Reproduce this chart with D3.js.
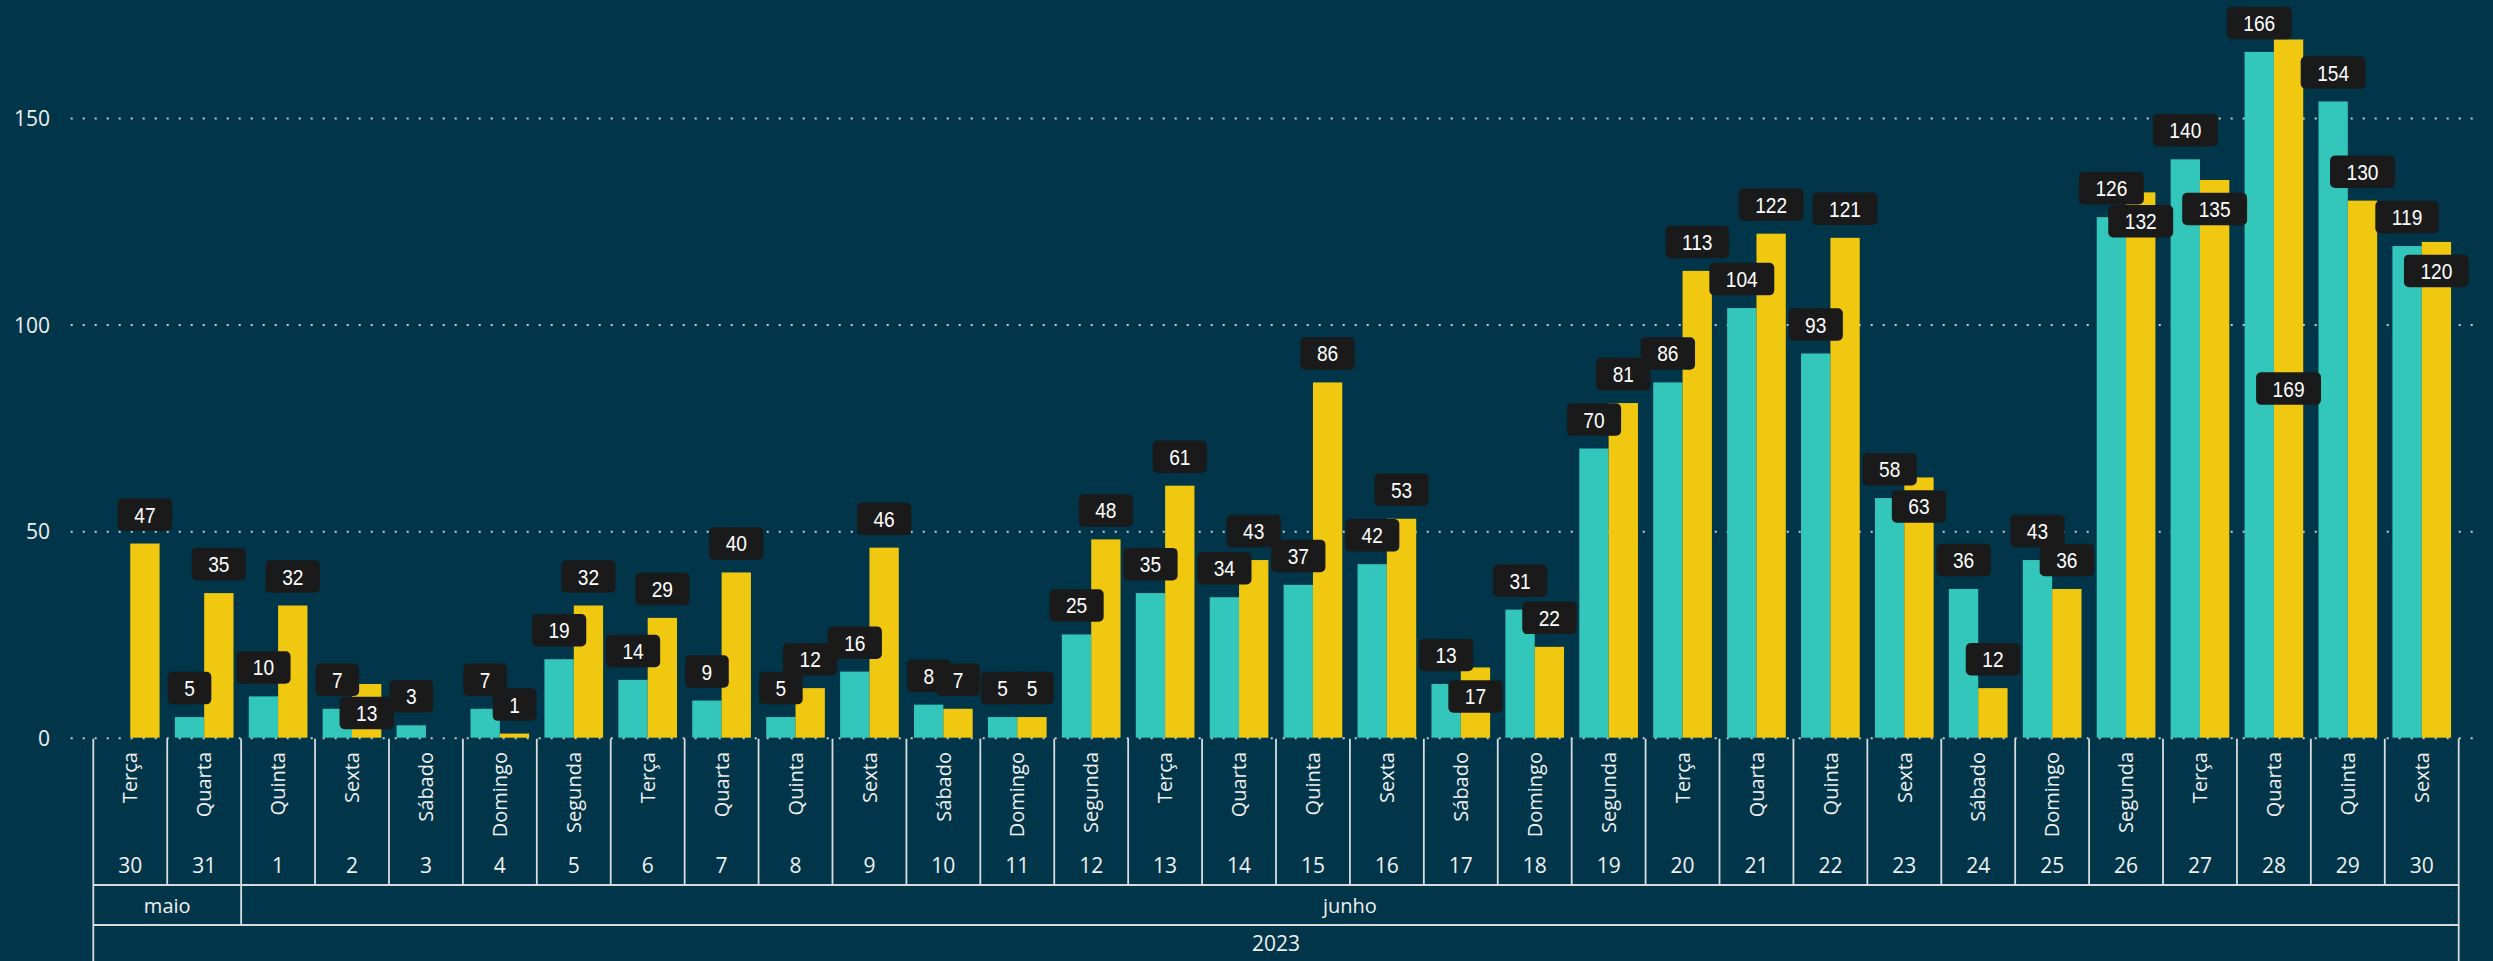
<!DOCTYPE html>
<html>
<head>
<meta charset="utf-8">
<script src="https://cdn.jsdelivr.net/npm/d3@7"></script>
<style>
html, body { margin: 0; padding: 0; background: #01364a; overflow: hidden; }
text { font-family: "Open Sans", "Noto Sans", sans-serif; fill: #f0f0f0; }
.axis text { font-size: 21px; }
.weekday { font-size: 20px; }
.daynum { font-size: 21px; }
.month { font-size: 20px; }
.dataLabel { font-family: "Liberation Sans", Arial, sans-serif; font-size: 22.5px; fill: #ffffff; }
</style>
</head>
<body>
<div id="drawing"></div>
<script>
"use strict"

/**** DATA ****/

let dayNumbers = [30, 31, 1, 2, 3, 4, 5, 6, 7, 8, 9, 10, 11, 12, 13, 14, 15, 16, 17, 18, 19, 20, 21, 22, 23, 24, 25, 26, 27, 28, 29, 30]
let weekdays = ["Terça", "Quarta", "Quinta", "Sexta", "Sábado", "Domingo", "Segunda", "Terça", "Quarta", "Quinta", "Sexta", "Sábado", "Domingo", "Segunda", "Terça", "Quarta", "Quinta", "Sexta", "Sábado", "Domingo", "Segunda", "Terça", "Quarta", "Quinta", "Sexta", "Sábado", "Domingo", "Segunda", "Terça", "Quarta", "Quinta", "Sexta"]
let monthNames = ["maio", "junho"]
let monthDayCounts = [2, 30]
let yearLabel = "2023"

let tealValues = [null, 5, 10, 7, 3, 7, 19, 14, 9, 5, 16, 8, 5, 25, 35, 34, 37, 42, 13, 31, 70, 86, 104, 93, 58, 36, 43, 126, 140, 166, 154, 119]
let yellowValues = [47, 35, 32, 13, null, 1, 32, 29, 40, 12, 46, 7, 5, 48, 61, 43, 86, 53, 17, 22, 81, 113, 122, 121, 63, 12, 36, 132, 135, 169, 130, 120]
let yTicks = [0, 50, 100, 150]


/**** CONFIGURATION ****/

let svgWidth = 2493
let svgHeight = 961

let plotLeft = 93.3
let plotRight = 2458.7
let gridLeft = 70.7
let gridRight = 2474
let baseY = 737.7
let tick150Y = 118
let dayRowBottom = 885
let monthRowBottom = 925

let seriesKeys = ["teal", "yellow"]
let seriesValues = [tealValues, yellowValues]
let seriesColors = ["#33c6ba", "#f0c80f"]
let lineColor = "#d8dcde"

let boxH = 32.5
let boxGap = 12.7
let labelSquash = 0.85   // labels use a narrow (DIN-like) face


/**** CANVAS SETUP ****/

let svg = d3.select("#drawing")
  .append("svg")
  .attr("width", svgWidth)
  .attr("height", svgHeight)
  .style("display", "block")

svg.append("rect")
  .attr("width", svgWidth)
  .attr("height", svgHeight)
  .attr("fill", "#01364a")


/**** SCALES ****/

let y = d3.scaleLinear()
  .domain([0, 150])
  .range([baseY, tick150Y])

let x = d3.scaleBand()
  .domain(d3.range(dayNumbers.length))
  .range([plotLeft, plotRight])

let xSub = d3.scaleBand()
  .domain(seriesKeys)
  .range([0, x.bandwidth()])
  .paddingOuter(0.26)


/**** GRID + Y AXIS ****/

let yAxis = svg.append("g")
  .attr("class", "axis")
  .attr("transform", "translate(" + gridLeft + ",0)")
  .call(d3.axisLeft(y)
    .tickValues(yTicks)
    .tickSize(-(gridRight - gridLeft))
    .tickPadding(20.7))

yAxis.select(".domain").remove()
yAxis.selectAll(".tick line")
  .attr("stroke", "#c9d0d4")
  .attr("stroke-width", 2)
  .attr("stroke-dasharray", "2,10")
yAxis.selectAll(".tick text")
  .attr("fill", "#f0f0f0")
  .attr("dy", "0.36em")


/**** BARS ****/

seriesKeys.forEach(function(key, si) {
  let rows = seriesValues[si]
    .map(function(v, i) { return { v: v, i: i } })
    .filter(function(d) { return d.v != null })

  svg.append("g")
    .selectAll("rect")
    .data(rows)
    .join("rect")
    .attr("x", d => x(d.i) + xSub(key))
    .attr("width", xSub.bandwidth())
    .attr("y", d => y(d.v))
    .attr("height", d => baseY - y(d.v))
    .attr("fill", seriesColors[si])
})


/**** DATA LABELS ****/

let labels = []
seriesKeys.forEach(function(key, si) {
  seriesValues[si].forEach(function(v, i) {
    if (v == null) return
    labels.push({ si: si, i: i, v: v, cx: x(i) + xSub(key) + xSub.bandwidth() / 2, top: y(v) })
  })
})

let probe = svg.append("text").attr("class", "dataLabel")
labels.forEach(function(d) {
  probe.text(d.v)
  d.tw = probe.node().getComputedTextLength() * labelSquash
  d.w = d.tw + 33
})
probe.remove()

// place above the bar, else inside end, else inside centre (teal first)
let placed = []
function collides(b) {
  return placed.some(function(p) {
    return Math.min(b.x1, p.x1) - Math.max(b.x0, p.x0) > 12 &&
      Math.min(b.y1, p.y1) - Math.max(b.y0, p.y0) > 5
  })
}

labels.forEach(function(d) {
  let x0 = d.cx - d.w / 2
  let x1 = d.cx + d.w / 2
  let above = d.top - boxGap - boxH
  let options = []
  if (above >= 0) options.push(above)
  if (d.top + boxGap + boxH <= baseY) options.push(d.top + boxGap)
  if (baseY - d.top >= boxH) options.push((d.top + baseY) / 2 - boxH / 2)
  let pick = options.find(y0 => !collides({ x0: x0, x1: x1, y0: y0, y1: y0 + boxH }))
  d.y0 = pick === undefined ? above : pick
  placed.push({ x0: x0, x1: x1, y0: d.y0, y1: d.y0 + boxH })
})

labels.sort((a, b) => a.i - b.i || a.si - b.si)

let labelG = svg.append("g")
  .selectAll("g")
  .data(labels)
  .join("g")

labelG.append("rect")
  .attr("x", d => d.cx - d.w / 2)
  .attr("y", d => d.y0)
  .attr("width", d => d.w)
  .attr("height", boxH)
  .attr("rx", 5)
  .attr("fill", "#1a1a1a")

labelG.append("text")
  .attr("class", "dataLabel")
  .attr("x", d => d.cx - d.tw / 2)
  .attr("y", d => d.y0 + boxH / 2 + 8)
  .attr("textLength", d => d.tw)
  .attr("lengthAdjust", "spacingAndGlyphs")
  .text(d => d.v)


/**** X AXIS TABLE ****/

let table = svg.append("g")

// day separators
table.selectAll("line.day")
  .data(d3.range(dayNumbers.length + 1))
  .join("line")
  .attr("class", "day")
  .attr("x1", i => i < dayNumbers.length ? x(i) : plotRight)
  .attr("x2", i => i < dayNumbers.length ? x(i) : plotRight)
  .attr("y1", baseY + 1)
  .attr("y2", dayRowBottom)
  .attr("stroke", lineColor)
  .attr("stroke-width", 1.8)

// month separators
let monthStarts = [0]
monthDayCounts.forEach(function(c, m) { monthStarts.push(monthStarts[m] + c) })

table.selectAll("line.month")
  .data(monthStarts)
  .join("line")
  .attr("class", "month")
  .attr("x1", i => i < dayNumbers.length ? x(i) : plotRight)
  .attr("x2", i => i < dayNumbers.length ? x(i) : plotRight)
  .attr("y1", dayRowBottom)
  .attr("y2", monthRowBottom)
  .attr("stroke", lineColor)
  .attr("stroke-width", 1.8)

// outer edges down to the year row
;[plotLeft, plotRight].forEach(function(px) {
  table.append("line")
    .attr("x1", px).attr("x2", px)
    .attr("y1", monthRowBottom).attr("y2", svgHeight)
    .attr("stroke", lineColor)
    .attr("stroke-width", 1.8)
})

;[dayRowBottom, monthRowBottom].forEach(function(py) {
  table.append("line")
    .attr("x1", plotLeft).attr("x2", plotRight)
    .attr("y1", py).attr("y2", py)
    .attr("stroke", lineColor)
    .attr("stroke-width", 1.8)
})

// weekday names (rotated)
table.selectAll("text.weekday")
  .data(weekdays)
  .join("text")
  .attr("class", "weekday")
  .attr("transform", (d, i) => "translate(" + (x(i) + x.bandwidth() / 2) + ",752) rotate(-90)")
  .attr("text-anchor", "end")
  .attr("dy", "0.36em")
  .text(d => d)

// day numbers
table.selectAll("text.daynum")
  .data(dayNumbers)
  .join("text")
  .attr("class", "daynum")
  .attr("x", (d, i) => x(i) + x.bandwidth() / 2)
  .attr("y", 872.5)
  .attr("text-anchor", "middle")
  .text(d => d)

// month names
table.selectAll("text.month")
  .data(monthNames)
  .join("text")
  .attr("class", "month")
  .attr("x", function(d, m) {
    let a = x(monthStarts[m])
    let b = monthStarts[m + 1] < dayNumbers.length ? x(monthStarts[m + 1]) : plotRight
    return (a + b) / 2
  })
  .attr("y", 912.5)
  .attr("text-anchor", "middle")
  .text(d => d)

// year
table.append("text")
  .attr("class", "month")
  .attr("x", (plotLeft + plotRight) / 2)
  .attr("y", 950.5)
  .attr("text-anchor", "middle")
  .style("font-size", "21px")
  .text(yearLabel)
</script>
</body>
</html>
